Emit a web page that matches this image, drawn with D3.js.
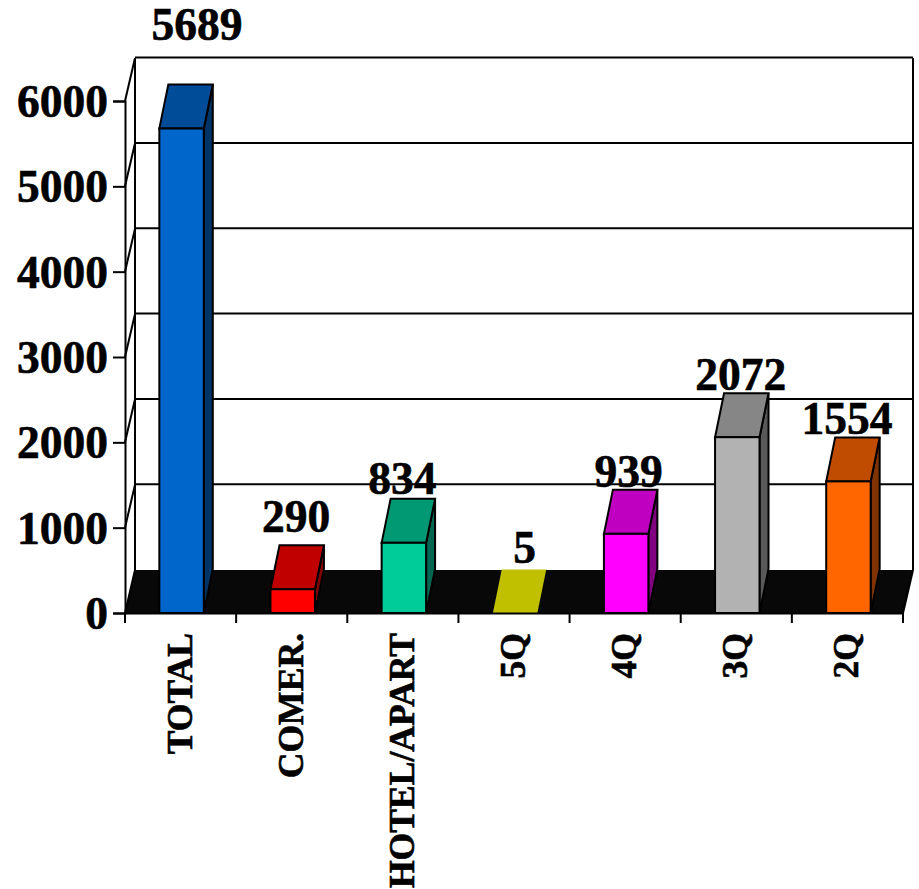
<!DOCTYPE html>
<html><head><meta charset="utf-8">
<script src="https://cdn.jsdelivr.net/npm/d3@7"></script>
<style>html,body{margin:0;background:#fff}svg{display:block}text{font-family:"Liberation Serif",serif;font-weight:bold;fill:#000;stroke:#000;stroke-width:0.6px}</style>
</head><body><svg id="c" width="919" height="889"></svg>
<script>
const categories=["TOTAL","COMER.","HOTEL/APART","5Q","4Q","3Q","2Q"];
const values=[5689,290,834,5,939,2072,1554];
const yTicks=[0,1000,2000,3000,4000,5000,6000];
const frontColors=["#0066CC","#FF0000","#00CC99","#C0C000","#FF00FF","#B2B2B2","#FF6600"];
const topColors=["#004C99","#C00000","#009973","#C0C000","#C000C0","#868686","#BF4C00"];
const sideColors=["#003366","#800000","#006650","#808000","#800080","#595959","#803300"];

const svg=d3.select("#c");
const dx=10,dy=-43,barDx=9,barDy=-44;
const x=d3.scaleBand().domain(categories).range([125,903]).paddingInner(0.6).paddingOuter(0.3);
const band=d3.scaleBand().domain(categories).range([125,903]);
const y=d3.scaleLinear().domain([0,6000]).range([613,101]);
const poly=p=>p.map(q=>q.join(",")).join(" ");

svg.append("polygon").attr("points",poly([[125,y(0)],[125+dx,y(0)+dy],[903+dx,y(0)+dy],[903,y(0)]])).attr("fill","#080808");
svg.selectAll("line.grid").data(yTicks.slice(1)).join("line")
  .attr("x1",125+dx).attr("x2",903+dx).attr("y1",d=>y(d)+dy-0.4).attr("y2",d=>y(d)+dy-0.4)
  .attr("stroke","#000").attr("stroke-width",2);
svg.selectAll("line.side").data(yTicks).join("line")
  .attr("x1",125).attr("x2",125+dx).attr("y1",d=>y(d)).attr("y2",d=>y(d)+dy)
  .attr("stroke","#000").attr("stroke-width",2);
svg.append("line").attr("x1",125+dx).attr("x2",125+dx).attr("y1",y(6000)+dy).attr("y2",y(0)+dy).attr("stroke","#000").attr("stroke-width",2);
svg.append("line").attr("x1",903+dx).attr("x2",903+dx).attr("y1",y(6000)+dy).attr("y2",y(0)+dy).attr("stroke","#000").attr("stroke-width",2);
svg.append("line").attr("x1",903).attr("x2",903+dx).attr("y1",y(0)).attr("y2",y(0)+dy).attr("stroke","#000").attr("stroke-width",2);

const g=svg.selectAll("g.bar").data(categories).join("g").attr("class","bar")
  .attr("stroke",(d,i)=>i===3?"none":"#000").attr("stroke-width",2);
const bx=d=>x(d)+1, bw=x.bandwidth();
const barTop=v=>y(v)+1;
g.append("polygon").attr("fill",(d,i)=>sideColors[i]).attr("points",(d,i)=>{const t=barTop(values[i]),b=y(0),r=bx(d)+bw;return poly([[r,b],[r+barDx,b+barDy],[r+barDx,t+barDy],[r,t]]);});
g.append("polygon").attr("fill",(d,i)=>topColors[i]).attr("points",(d,i)=>{const t=barTop(values[i]),l=bx(d),r=l+bw;return poly([[l,t],[l+barDx,t+barDy],[r+barDx,t+barDy],[r,t]]);});
g.append("rect").attr("fill",(d,i)=>frontColors[i]).attr("x",d=>bx(d)).attr("width",bw).attr("y",(d,i)=>Math.min(barTop(values[i]),y(0))).attr("height",(d,i)=>Math.max(0,y(0)-barTop(values[i])));

const ya=svg.append("g").attr("transform","translate(125,0)").call(d3.axisLeft(y).tickValues(yTicks).tickFormat(d3.format("d")).tickSize(12).tickPadding(5));
ya.selectAll("path,line").attr("stroke","#000").attr("stroke-width",2);
ya.selectAll("text").style("font-size","45.5px").attr("dy","0.34em");

const xa=svg.append("g").attr("transform","translate(0,613)").call(d3.axisBottom(band).tickSizeOuter(0).tickSize(0).tickFormat(""));
xa.select("path").attr("stroke","#000").attr("stroke-width",2);
const edges=[...categories.map(c=>band(c)),903];
xa.selectAll("line.t").data(edges).join("line").attr("class","t").attr("x1",d=>d).attr("x2",d=>d).attr("y1",0).attr("y2",10).attr("stroke","#000").attr("stroke-width",2);

svg.selectAll("text.cat").data(categories).join("text").attr("class","cat")
  .attr("transform",d=>`translate(${bx(d)+bw/2+10},633) rotate(-90)`)
  .attr("text-anchor","end").style("font-size","35.6px").text(d=>d);

const labelNudge=[[15.5,-45],[3.5,-13],[-1.5,-5],[9.5,-7],[2.5,-3],[3.5,-3],[-1.5,-3]];
svg.selectAll("text.val").data(values).join("text").attr("class","val")
  .attr("x",(d,i)=>bx(categories[i])+bw/2+labelNudge[i][0])
  .attr("y",(d,i)=>y(d)+dy+labelNudge[i][1])
  .attr("text-anchor","middle").style("font-size","45.5px").text(d=>d);
</script></body></html>
